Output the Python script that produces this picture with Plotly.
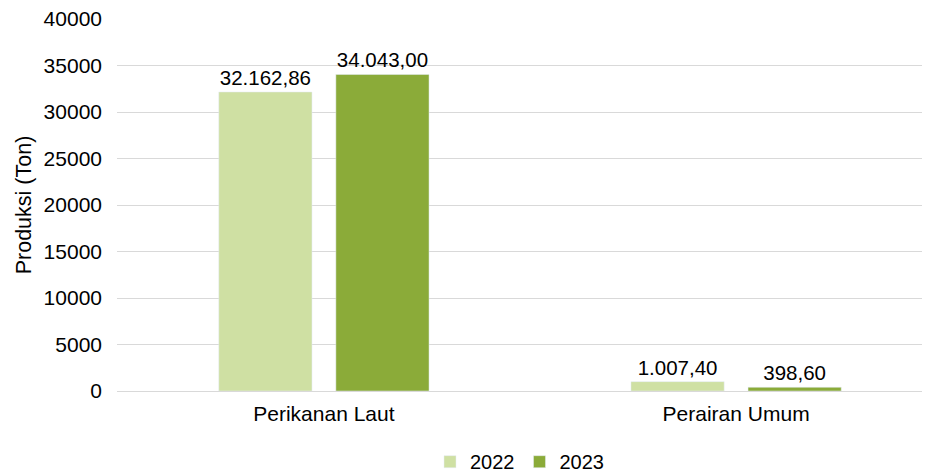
import plotly.graph_objects as go

categories = ["Perikanan Laut", "Perairan Umum"]
years = ["2022", "2023"]
values_2022 = [32162.86, 1007.40]
values_2023 = [34043.00, 398.60]
labels_2022 = ["32.162,86", "1.007,40"]
labels_2023 = ["34.043,00", "398,60"]
colors = ["#CFE0A3", "#8BAB39"]

fig = go.Figure()
for name, vals, labs, col in zip(years, [values_2022, values_2023],
                                 [labels_2022, labels_2023], colors):
    fig.add_trace(go.Bar(
        x=categories, y=vals, name=name, marker_color=col,
        text=labs, textposition="outside", cliponaxis=False,
        textfont=dict(size=20.5, color="#000000"),
    ))

# the page body adds 8px round the figure, so size it a little smaller
fig.update_layout(
    width=925, height=467,
    barmode="group", bargap=0.432, bargroupgap=0.204,
    margin=dict(l=109, r=11, t=11, b=84, autoexpand=False),
    plot_bgcolor="white", paper_bgcolor="white",
    font=dict(family="Liberation Sans, Arial, sans-serif", size=20, color="#000000"),
    legend=dict(orientation="h", x=0.5, xanchor="center", y=-0.19, yanchor="middle",
                font=dict(size=20), itemwidth=30, traceorder="normal"),
)
fig.update_xaxes(range=[-0.502, 1.451], showline=True, linecolor="#D9D9D9",
                 linewidth=1, ticks="", tickfont=dict(size=21), ticklabelstandoff=4)
fig.update_yaxes(range=[0, 40010], tick0=0, dtick=5000, showgrid=True,
                 gridcolor="#D9D9D9", zeroline=False,
                 title=dict(text="Produksi (Ton)", standoff=6, font=dict(size=21.5)),
                 tickfont=dict(size=21), ticks="", tickformat="d",
                 ticklabelstandoff=14, ticklabeloverflow="allow")

fig.write_html("out.html")
